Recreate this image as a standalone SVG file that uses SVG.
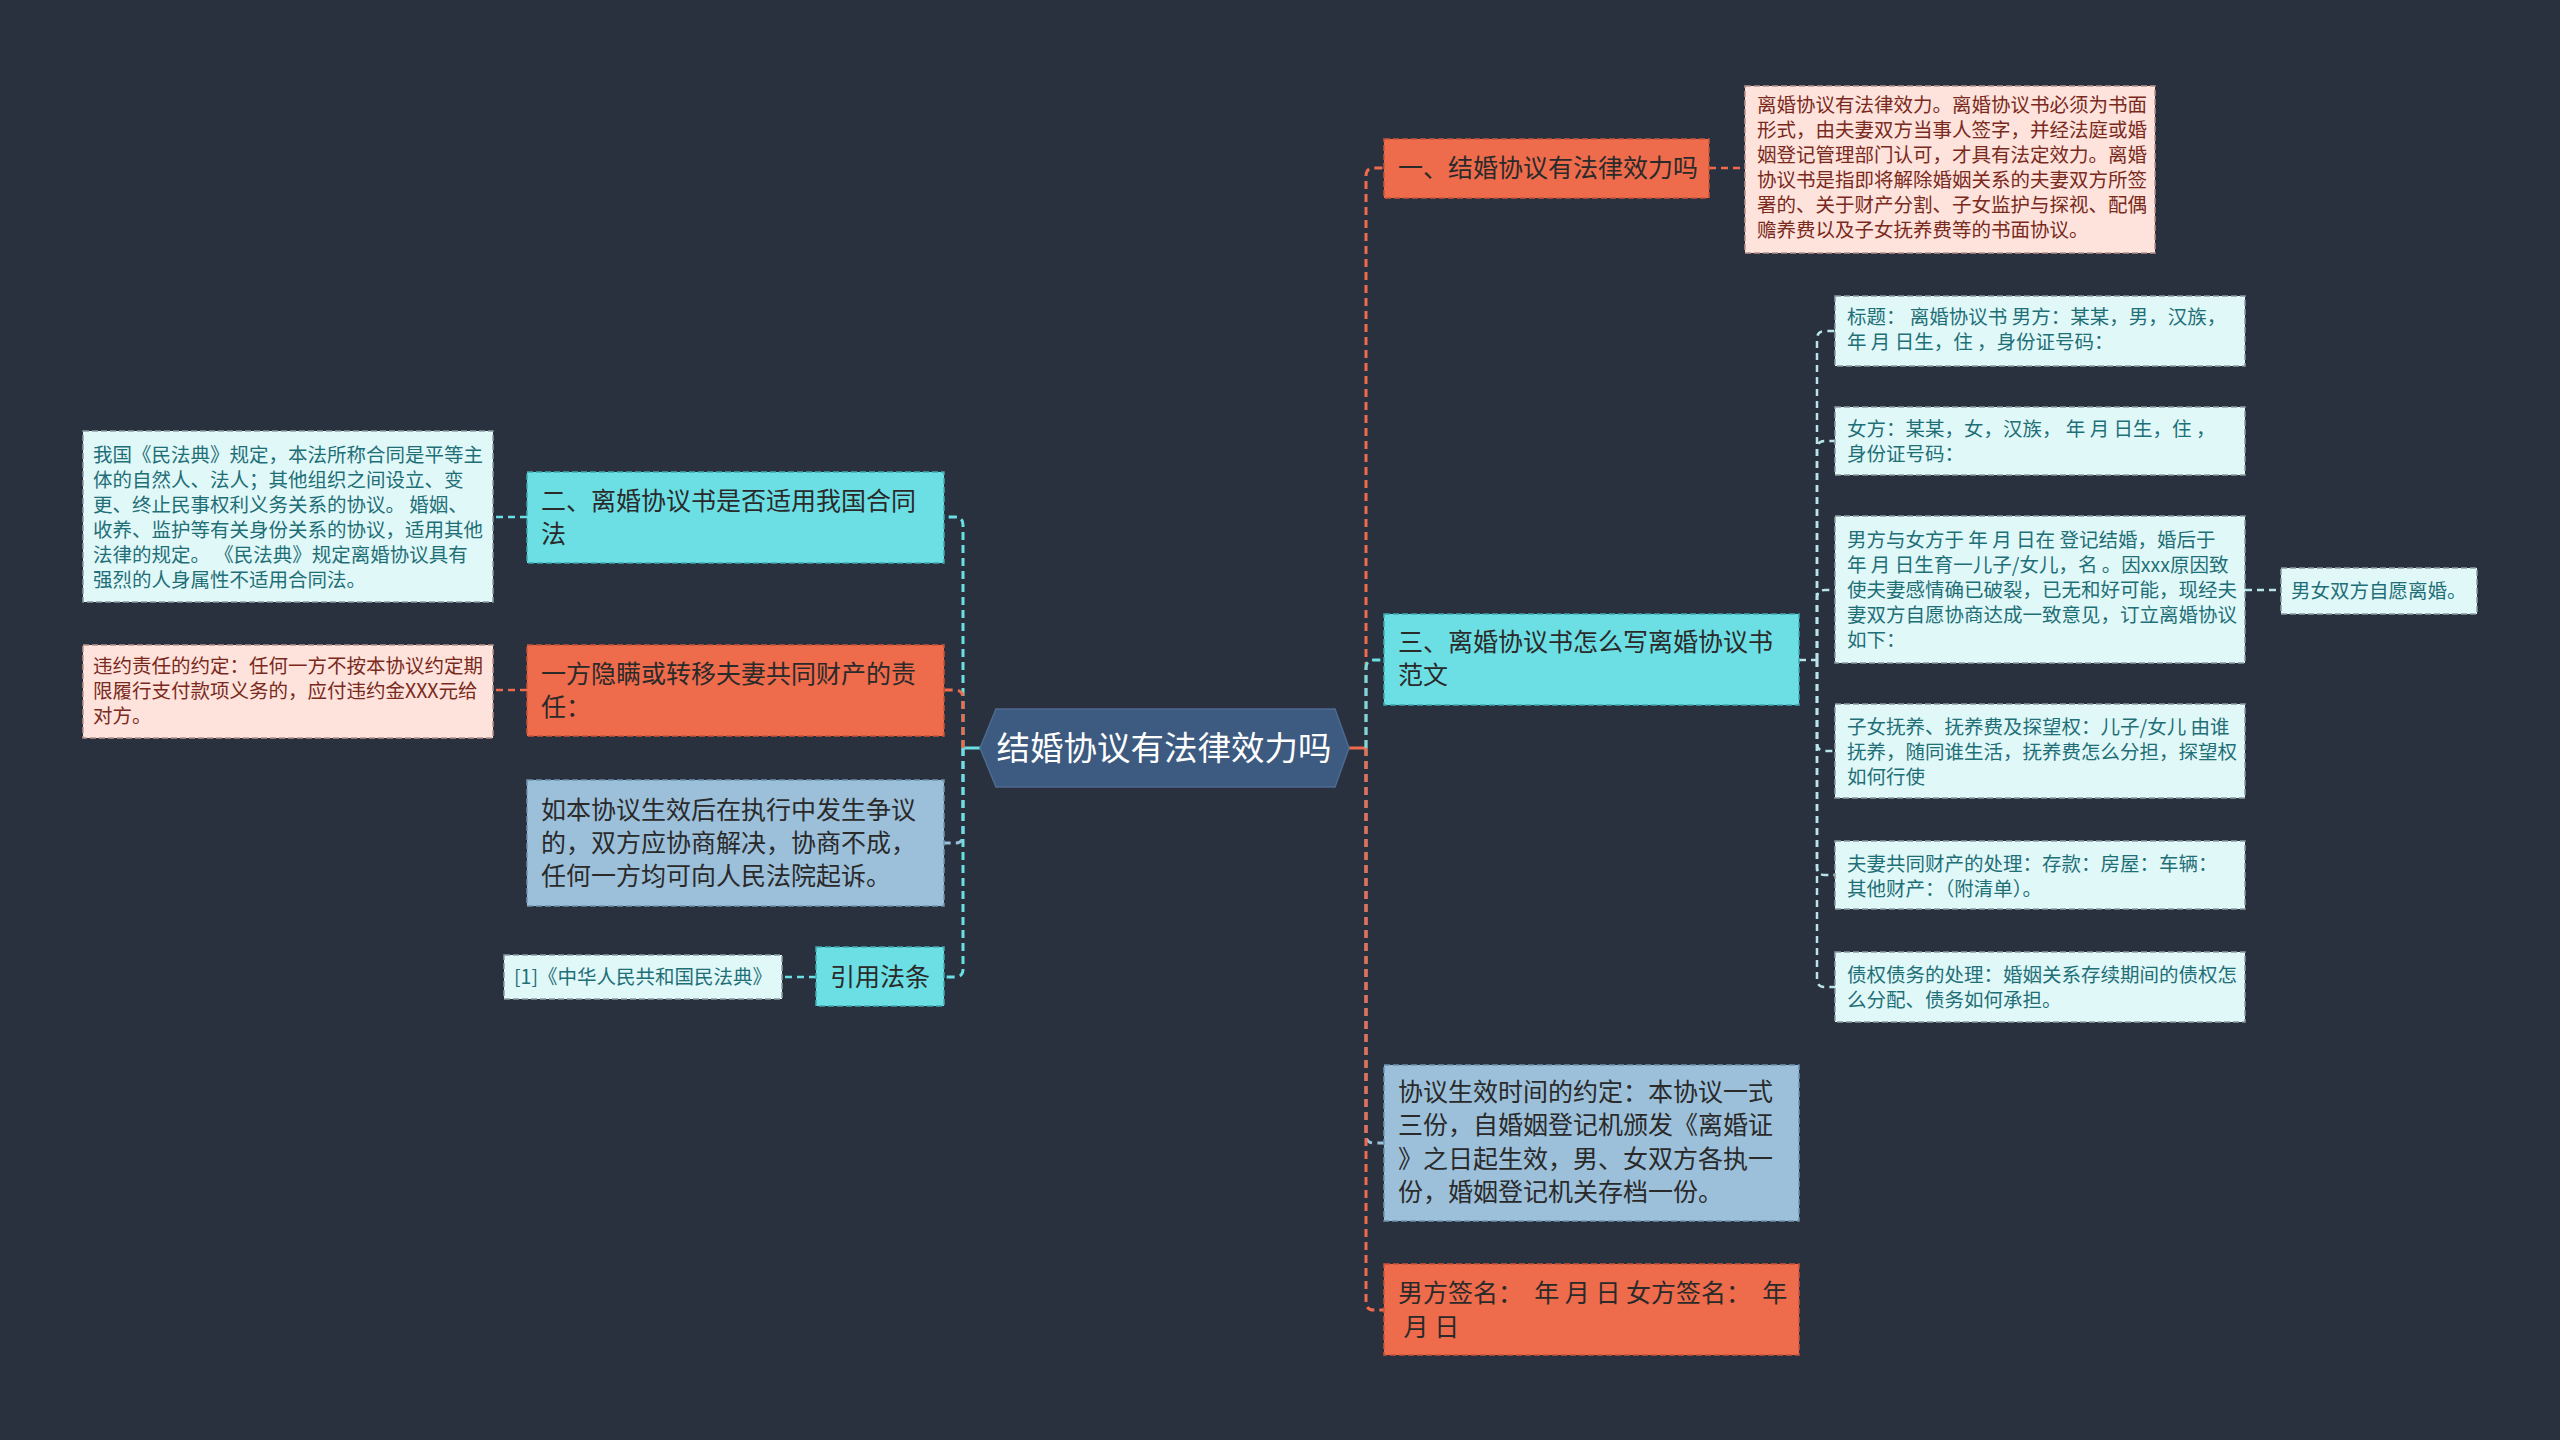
<svg xmlns="http://www.w3.org/2000/svg" width="2560" height="1440" viewBox="0 0 2560 1440">
<style>
text{font-family:"Noto Sans CJK SC","Microsoft YaHei",sans-serif;white-space:pre}
.t25{font-size:25px;fill:#2a2a2a}
.t19{font-size:19.5px}
.teal{fill:#1f6f77}
.red{fill:#7a2a1c}
.orange{fill:#ee6b4c;stroke:#c9533a;stroke-width:1.5;stroke-dasharray:6 3}
.cyan{fill:#6cdfe5;stroke:#3fa9b0;stroke-width:1.5;stroke-dasharray:6 3}
.blue{fill:#9cc0da;stroke:#6e93ae;stroke-width:1.5;stroke-dasharray:6 3}
.lc{fill:#e1f8f9;stroke:#8a9aa0;stroke-width:1.5;stroke-dasharray:6 3}
.pk{fill:#fde3dc;stroke:#b9928a;stroke-width:1.5;stroke-dasharray:6 3}
.c{fill:none;stroke-width:3;stroke-dasharray:8 5}
.s{fill:none;stroke-width:2.5;stroke-dasharray:7 5}
</style>
<rect width="2560" height="1440" fill="#29313f"/>
<g id="connectors">
<line x1="1349" y1="748" x2="1366" y2="748" stroke="#ee6b4c" stroke-width="3"/>
<line x1="963" y1="748" x2="980" y2="748" stroke="#6cdfe5" stroke-width="3"/>
<path class="c" stroke="#ee6b4c" d="M1366,748 V176 Q1366,168 1374,168 H1384"/>
<path class="c" stroke="#6cdfe5" d="M1366,748 V668 Q1366,660 1374,660 H1384"/>
<path class="c" stroke="#9cc0da" d="M1366,748 V1135 Q1366,1143 1374,1143 H1384"/>
<path class="c" stroke="#ee6b4c" d="M1366,748 V1302 Q1366,1310 1374,1310 H1384"/>
<path class="c" stroke="#6cdfe5" d="M963,748 V525 Q963,517 955,517 H944"/>
<path class="c" stroke="#9cc0da" d="M963,748 V835 Q963,843 955,843 H944"/>
<path class="c" stroke="#6cdfe5" d="M963,748 V969 Q963,977 955,977 H944"/>
<path class="c" stroke="#ee6b4c" d="M963,748 V698 Q963,690 955,690 H944"/>
<path class="s" stroke="#ee6b4c" d="M1709,168 H1745"/>
<path class="s" stroke="#6cdfe5" d="M527,517 H493"/>
<path class="s" stroke="#ee6b4c" d="M527,690 H493"/>
<path class="s" stroke="#6cdfe5" d="M816,977 H782"/>
<g stroke="#b9e4e8">
<path class="s" d="M1799,660 H1817"/>
<path class="s" d="M1817,660 V339 Q1817,331 1825,331 H1835"/>
<path class="s" d="M1817,660 V449 Q1817,441 1825,441 H1835"/>
<path class="s" d="M1817,660 V598 Q1817,590 1825,590 H1835"/>
<path class="s" d="M1817,660 V743 Q1817,751 1825,751 H1835"/>
<path class="s" d="M1817,660 V867 Q1817,875 1825,875 H1835"/>
<path class="s" d="M1817,660 V979 Q1817,987 1825,987 H1835"/>
<path class="s" d="M2245,590 H2281"/>
</g>
</g>
<g id="central">
<polygon points="980,748 996,709 1335,709 1349,748 1335,787 996,787" fill="#3d5a80" stroke="#4d6a90" stroke-width="1.5"/>
<text x="1164" y="760" font-size="33.5" fill="#ffffff" text-anchor="middle">结婚协议有法律效力吗</text>
</g>
<g id="n1">
<rect class="orange" x="1384" y="139" width="325" height="59"/>
<text class="t25" x="1398" y="177">一、结婚协议有法律效力吗</text>
</g>
<g id="n1d">
<rect class="pk" x="1745" y="86" width="410" height="167"/>
<text class="t19 red" x="1757" y="112">离婚协议有法律效力。离婚协议书必须为书面</text>
<text class="t19 red" x="1757" y="137">形式，由夫妻双方当事人签字，并经法庭或婚</text>
<text class="t19 red" x="1757" y="162">姻登记管理部门认可，才具有法定效力。离婚</text>
<text class="t19 red" x="1757" y="187">协议书是指即将解除婚姻关系的夫妻双方所签</text>
<text class="t19 red" x="1757" y="212">署的、关于财产分割、子女监护与探视、配偶</text>
<text class="t19 red" x="1757" y="237">赡养费以及子女抚养费等的书面协议。</text>
</g>
<g id="n3">
<rect class="cyan" x="1384" y="614" width="415" height="91"/>
<text class="t25" x="1398" y="651">三、离婚协议书怎么写离婚协议书</text>
<text class="t25" x="1398" y="684">范文</text>
</g>
<g id="n3a">
<rect class="lc" x="1835" y="296" width="410" height="70"/>
<text class="t19 teal" x="1847" y="324">标题： 离婚协议书 男方：某某，男，汉族，</text>
<text class="t19 teal" x="1847" y="349">年 月 日生，住 ，身份证号码：</text>
</g>
<g id="n3b">
<rect class="lc" x="1835" y="407" width="410" height="68"/>
<text class="t19 teal" x="1847" y="436">女方：某某，女，汉族， 年 月 日生，住 ，</text>
<text class="t19 teal" x="1847" y="461">身份证号码：</text>
</g>
<g id="n3c">
<rect class="lc" x="1835" y="516" width="410" height="147"/>
<text class="t19 teal" x="1847" y="547">男方与女方于 年 月 日在 登记结婚，婚后于</text>
<text class="t19 teal" x="1847" y="572">年 月 日生育一儿子/女儿，名 。因xxx原因致</text>
<text class="t19 teal" x="1847" y="597">使夫妻感情确已破裂，已无和好可能，现经夫</text>
<text class="t19 teal" x="1847" y="622">妻双方自愿协商达成一致意见，订立离婚协议</text>
<text class="t19 teal" x="1847" y="647">如下：</text>
</g>
<g id="n3c1">
<rect class="lc" x="2281" y="568" width="196" height="46"/>
<text class="t19 teal" x="2291" y="598">男女双方自愿离婚。</text>
</g>
<g id="n3d">
<rect class="lc" x="1835" y="704" width="410" height="94"/>
<text class="t19 teal" x="1847" y="734">子女抚养、抚养费及探望权：儿子/女儿 由谁</text>
<text class="t19 teal" x="1847" y="759">抚养，随同谁生活，抚养费怎么分担，探望权</text>
<text class="t19 teal" x="1847" y="784">如何行使</text>
</g>
<g id="n3e">
<rect class="lc" x="1835" y="841" width="410" height="68"/>
<text class="t19 teal" x="1847" y="871">夫妻共同财产的处理：存款：房屋：车辆：</text>
<text class="t19 teal" x="1847" y="896">其他财产：（附清单）。</text>
</g>
<g id="n3f">
<rect class="lc" x="1835" y="952" width="410" height="70"/>
<text class="t19 teal" x="1847" y="982">债权债务的处理：婚姻关系存续期间的债权怎</text>
<text class="t19 teal" x="1847" y="1007">么分配、债务如何承担。</text>
</g>
<g id="n4">
<rect class="blue" x="1384" y="1065" width="415" height="156"/>
<text class="t25" x="1398" y="1101">协议生效时间的约定：本协议一式</text>
<text class="t25" x="1398" y="1134">三份，自婚姻登记机颁发《离婚证</text>
<text class="t25" x="1398" y="1168">》之日起生效，男、女双方各执一</text>
<text class="t25" x="1398" y="1201">份，婚姻登记机关存档一份。</text>
</g>
<g id="n5">
<rect class="orange" x="1384" y="1264" width="415" height="91"/>
<text class="t25" x="1398" y="1302">男方签名：  年 月 日 女方签名：  年</text>
<text class="t25" x="1398" y="1336"> 月 日</text>
</g>
<g id="n2">
<rect class="cyan" x="527" y="472" width="417" height="91"/>
<text class="t25" x="541" y="510">二、离婚协议书是否适用我国合同</text>
<text class="t25" x="541" y="543">法</text>
</g>
<g id="n2d">
<rect class="lc" x="83" y="431" width="410" height="171"/>
<text class="t19 teal" x="93" y="462">我国《民法典》规定，本法所称合同是平等主</text>
<text class="t19 teal" x="93" y="487">体的自然人、法人；其他组织之间设立、变</text>
<text class="t19 teal" x="93" y="512">更、终止民事权利义务关系的协议。 婚姻、</text>
<text class="t19 teal" x="93" y="537">收养、监护等有关身份关系的协议，适用其他</text>
<text class="t19 teal" x="93" y="562">法律的规定。 《民法典》规定离婚协议具有</text>
<text class="t19 teal" x="93" y="587">强烈的人身属性不适用合同法。</text>
</g>
<g id="n6">
<rect class="orange" x="527" y="645" width="417" height="91"/>
<text class="t25" x="541" y="683">一方隐瞒或转移夫妻共同财产的责</text>
<text class="t25" x="541" y="716">任：</text>
</g>
<g id="n6d">
<rect class="pk" x="83" y="645" width="410" height="93"/>
<text class="t19 red" x="93" y="673">违约责任的约定：任何一方不按本协议约定期</text>
<text class="t19 red" x="93" y="698">限履行支付款项义务的，应付违约金XXX元给</text>
<text class="t19 red" x="93" y="723">对方。</text>
</g>
<g id="n7">
<rect class="blue" x="527" y="780" width="417" height="126"/>
<text class="t25" x="541" y="819">如本协议生效后在执行中发生争议</text>
<text class="t25" x="541" y="852">的，双方应协商解决，协商不成，</text>
<text class="t25" x="541" y="885">任何一方均可向人民法院起诉。</text>
</g>
<g id="n8">
<rect class="cyan" x="816" y="947" width="128" height="59"/>
<text class="t25" x="880" y="986" text-anchor="middle">引用法条</text>
</g>
<g id="n8d">
<rect class="lc" x="504" y="955" width="278" height="44"/>
<text class="t19 teal" x="514" y="984">[1]《中华人民共和国民法典》</text>
</g>
</svg>
